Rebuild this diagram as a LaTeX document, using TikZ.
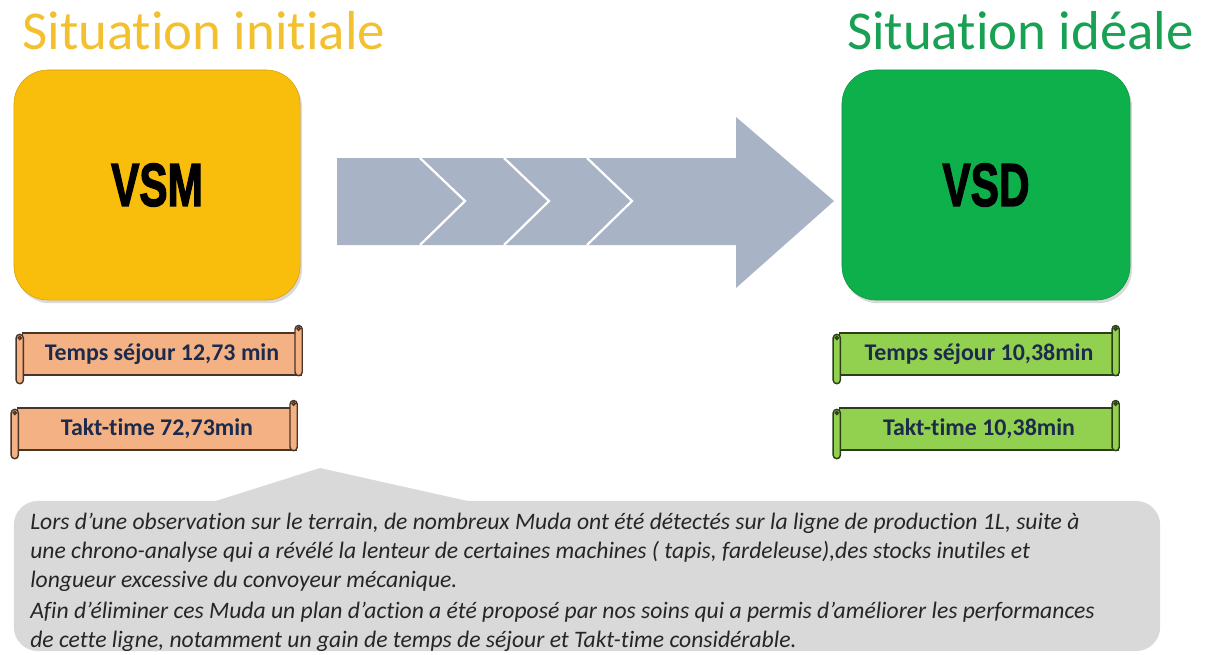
\documentclass[tikz,border=0pt]{standalone}
\usepackage{fontspec}
\setmainfont{Carlito}[RawFeature={-liga;-clig;-calt;-dlig}]
\newfontfamily\heavyfont{Liberation Sans}[BoldFeatures={FakeBold=2.5}]
\usetikzlibrary{shadows}
\definecolor{gold}{HTML}{F9BE0C}
\definecolor{goldtitle}{HTML}{F3C12F}
\definecolor{vsdgreen}{HTML}{0EB04C}
\definecolor{greentitle}{HTML}{18A152}
\definecolor{peach}{HTML}{F4B183}
\definecolor{lime}{HTML}{92D050}
\definecolor{navy}{HTML}{1C2A4C}
\definecolor{arrowgray}{HTML}{A9B3C6}
\definecolor{notegray}{HTML}{D9D9D9}
\newcommand\rolls[2]{%
  \draw[#2, rounded corners=0.9mm] ([xshift=-1.8mm]#1.south east) rectangle ([yshift=1.7mm]#1.north east);
  \draw[#2] ([xshift=-0.9mm,yshift=0.9mm]#1.north east) circle (0.4mm);
  \draw[#2, rounded corners=0.9mm] ([xshift=-1.4mm,yshift=-0.5mm]#1.north west) rectangle ([xshift=0.4mm,yshift=-2mm]#1.south west);
  \draw[#2] ([xshift=-0.5mm,yshift=-1.4mm]#1.north west) circle (0.4mm);
}
\begin{document}
\begin{tikzpicture}[
    x=0.025cm, y=-0.025cm,
    title/.style={font=\fontsize{39}{44}\selectfont, inner sep=0},
    mainbox/.style={rounded corners=8.5mm, minimum width=71.5mm, minimum height=57.5mm,
      drop shadow={opacity=0.3, shadow xshift=0.5mm, shadow yshift=-0.8mm},
      font=\heavyfont\bfseries\fontsize{43}{46}\selectfont},
    banner/.style={rectangle, minimum width=69.75mm, minimum height=10.5mm, inner sep=0,
      line width=1pt, text=navy, font=\bfseries\fontsize{17}{20}\selectfont},
    peachbanner/.style={banner, fill=peach, draw=peach!30!black},
    limebanner/.style={banner, fill=lime, draw=lime!30!black},
    notetext/.style={align=left, inner sep=0, text=black!85,
      font=\itshape\fontsize{16.8}{20.4}\selectfont}
  ]
  \useasboundingbox (0,0) rectangle (1208,654);

  \node[title, text=goldtitle, anchor=base west] (tinit) at (22,49) {Situation initiale};
  \node[title, text=greentitle, anchor=base east] (tideal) at (1194,49) {Situation idéale};

  \node[mainbox, fill=gold, draw=gold!85!black] (vsm) at (157,185) {\scalebox{0.7}[1]{VSM}};
  \node[mainbox, fill=vsdgreen, draw=vsdgreen!85!black, minimum width=72mm] (vsd) at (986,185) {\scalebox{0.7}[1]{VSD}};

  \fill[arrowgray] (337,158) -- (736,158) -- (736,117) -- (834,201) -- (736,288) -- (736,245) -- (337,245) -- cycle;
  \foreach \x in {420,504,587}
    \draw[white, line width=1.6pt] (\x,158) -- (\x+45,201) -- (\x,245);

  \node[peachbanner] (sej1) at (162,354) {Temps séjour 12,73 min};
  \rolls{sej1}{fill=peach, draw=peach!30!black, line width=1pt}
  \node[peachbanner] (takt1) at (157,429) {Takt-time 72,73min};
  \rolls{takt1}{fill=peach, draw=peach!30!black, line width=1pt}
  \node[limebanner] (sej2) at (979,354) {Temps séjour 10,38min};
  \rolls{sej2}{fill=lime, draw=lime!30!black, line width=1pt}
  \node[limebanner] (takt2) at (979,429) {Takt-time 10,38min};
  \rolls{takt2}{fill=lime, draw=lime!30!black, line width=1pt}

  \node[fill=notegray, rounded corners=6mm, minimum width=286.5mm, minimum height=37.5mm] (note) at (587,576) {};
  \fill[notegray] (200,506) -- (320,468) -- (490,506) -- cycle;
  \node[notetext, anchor=north west] (txt) at (30,513) {Lors d’une observation sur le terrain, de nombreux Muda ont été détectés sur la ligne de production 1L, suite à\\
une chrono-analyse qui a révélé la lenteur de certaines machines ( tapis, fardeleuse),des stocks inutiles et\\
longueur excessive du convoyeur mécanique.\\[2pt]
Afin d’éliminer ces Muda un plan d’action a été proposé par nos soins qui a permis d’améliorer les performances\\
de cette ligne, notamment un gain de temps de séjour et Takt-time considérable.};
\end{tikzpicture}
\end{document}
